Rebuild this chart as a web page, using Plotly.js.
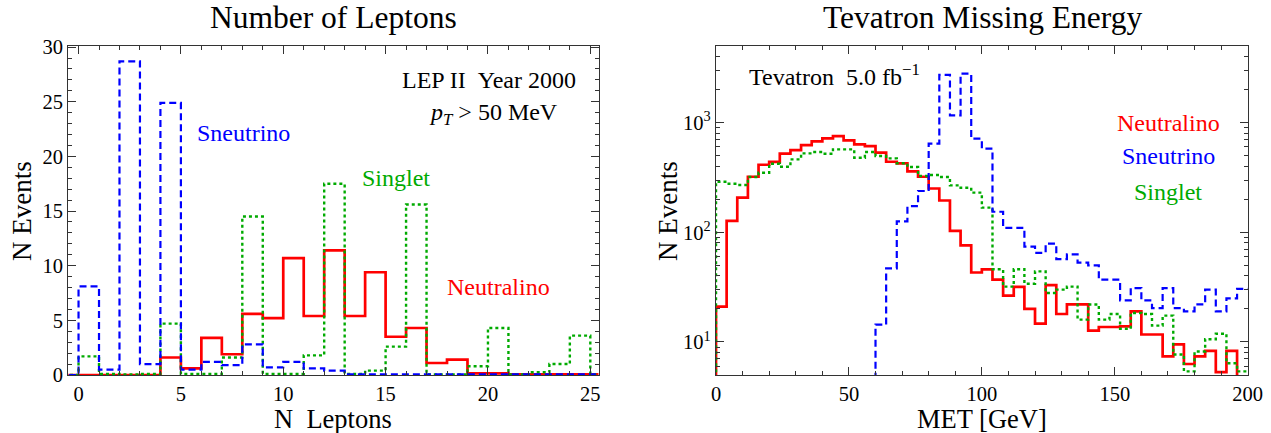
<!DOCTYPE html>
<html>
<head>
<meta charset="utf-8">
<script src="https://cdn.plot.ly/plotly-3.0.1.min.js"></script>
<style>
  html, body { margin: 0; padding: 0; background: #ffffff; }
  #chart { width: 1271px; height: 433px; }
</style>
</head>
<body>
<div id="chart"></div>
<script>
// ---------- Left panel: Number of Leptons (LEP II, year 2000) ----------
const nLeptons = [0,1,2,3,4,5,6,7,8,9,10,11,12,13,14,15,16,17,18,19,20,21,22,23,24,25];
const lepNeutralino = [0,0,0,0,1.6,0.6,3.4,1.9,5.6,5.2,10.7,5.4,11.4,5.4,9.4,3.5,4.3,1.1,1.4,0.15,0.15,0.05,0.05,0.05,0.05,0.05];
const lepSneutrino  = [8.1,0.5,28.7,1.0,24.9,0.5,1.2,0.9,2.8,0.7,1.2,0.6,0.4,0.05,0.05,0.05,0.05,0.05,0.05,0.05,0.05,0.05,0.05,0.05,0.05,0.05];
const lepSinglet    = [1.7,0.1,0.05,0.1,4.7,0.1,0.1,1.6,14.5,0.1,0.1,1.8,17.5,0.1,0.4,2.6,15.6,0.05,0.05,0.8,4.3,0.05,0.25,1.0,3.6,0.05];

// ---------- Right panel: Tevatron missing energy, 4 GeV bins (lower edges) ----------
const metBinLow = [0,4,8,12,16,20,24,28,32,36,40,44,48,52,56,60,64,68,72,76,80,84,88,92,96,
                   100,104,108,112,116,120,124,128,132,136,140,144,148,152,156,160,164,168,172,176,180,184,188,192,196];
const metBinWidth = 4;
const metNeutralino = [21,127,207,321,413,438,521,562,625,676,719,755,690,634,612,532,440,426,360,321,251,195,103,76,43,
                       46,37,26.5,31.8,20,14.7,33,18,22,22,12.7,13.7,13.7,13.9,19,11.7,11.7,7.4,9.5,6.3,7.4,8.3,5.3,8.3,4.5];
const metSneutrino  = [1,1,1,1,1,1,1,1,1,1,1,1,1,1,1,14.4,47,126,173,238,643,2725,1166,2800,714,
                       579,154,110,110,74,65,79,57,63,53,50,37,37,24,31,24,20.4,31,20.4,19,22,30,19,25,30.5];
const metSinglet    = [289,277,270,319,349,422,396,463,525,540,521,571,571,479,540,497,472,426,394,326,333,319,268,255,230,
                       168,46,32,46,34,44,28,30,32,16,22,16,18,13.2,18.4,18,14.1,17.4,7.7,5.4,8.2,10.6,11.9,6.4,5.4];

// tick labels
const lepTickVals = [0,5,10,15,20,25];
const evtTickVals = [0,5,10,15,20,25,30];
const metTickVals = [0,50,100,150,200];
const logTickVals = [10,100,1000];
const logTickText = ['10<sup>1</sup>','10<sup>2</sup>','10<sup>3</sup>'];
const logMinorVals = [5,6,7,8,9,20,30,40,50,60,70,80,90,200,300,400,500,600,700,800,900,2000,3000,4000,5000];

const RED = '#ff0000', BLUE = '#0000ff', GREEN = 'rgb(0,170,0)';
const FONT = 'Liberation Serif, Times New Roman, serif';

// step-histogram helper: x = bin edges, y = value held across each bin
function stepsUnit(bins, vals) {
  const x = [bins[0] - 1].concat(bins, [bins[bins.length - 1] + 1]);
  const y = [0].concat(vals, [vals[vals.length - 1]]);
  return {x, y};
}
function stepsMet(low, w, vals, floor) {
  const x = [low[0] - w].concat(low, [low[low.length - 1] + w]);
  const y = [floor].concat(vals, [vals[vals.length - 1]]);
  return {x, y};
}

const lN = stepsUnit(nLeptons, lepNeutralino);
const lS = stepsUnit(nLeptons, lepSneutrino);
const lG = stepsUnit(nLeptons, lepSinglet);
const mN = stepsMet(metBinLow, metBinWidth, metNeutralino, 1);
const mS = stepsMet(metBinLow, metBinWidth, metSneutrino, 1);
const mG = stepsMet(metBinLow, metBinWidth, metSinglet, 1);

function tr(s, color, dash, width, xa, ya, name) {
  return {x: s.x, y: s.y, type: 'scatter', mode: 'lines', name: name,
          line: {shape: 'hv', color: color, dash: dash, width: width},
          xaxis: xa, yaxis: ya, hoverinfo: 'x+y', showlegend: false, cliponaxis: true};
}

const data = [
  tr(lN, RED, 'solid', 2.7, 'x', 'y', 'Neutralino'),
  tr(lG, GREEN, 'dot', 2.4, 'x', 'y', 'Singlet'),
  tr(lS, BLUE, '7px,4px', 2.2, 'x', 'y', 'Sneutrino'),
  tr(mN, RED, 'solid', 2.7, 'x2', 'y2', 'Neutralino'),
  tr(mG, GREEN, 'dot', 2.4, 'x2', 'y2', 'Singlet'),
  tr(mS, BLUE, '7px,4px', 2.2, 'x2', 'y2', 'Sneutrino')
];

const axCommon = {
  showline: true, linecolor: '#333', linewidth: 1.2, mirror: 'allticks',
  ticks: 'inside', ticklen: 8, tickwidth: 1, tickcolor: '#333',
  showgrid: false, zeroline: false, fixedrange: true,
  tickfont: {family: FONT, size: 20.5, color: '#000'}
};

const ydom = [1 - 375/433, 1 - 46/433];

const layout = {
  width: 1271, height: 433,
  margin: {l: 0, r: 0, t: 0, b: 0},
  paper_bgcolor: '#ffffff', plot_bgcolor: '#ffffff',
  showlegend: false,
  font: {family: FONT, color: '#000'},
  xaxis: Object.assign({}, axCommon, {
    domain: [68.3/1271, 598.5/1271], range: [-0.5, 25.4],
    tickmode: 'array', tickvals: lepTickVals, ticktext: lepTickVals.map(String),
    minor: {dtick: 1, tick0: 0, ticklen: 4, tickcolor: '#333', ticks: 'inside'},
    anchor: 'y'
  }),
  yaxis: Object.assign({}, axCommon, {
    domain: ydom, range: [0, 30.1],
    tickmode: 'array', tickvals: evtTickVals, ticktext: evtTickVals.map(String),
    minor: {dtick: 1, tick0: 0, ticklen: 4, tickcolor: '#333', ticks: 'inside'},
    anchor: 'x'
  }),
  xaxis2: Object.assign({}, axCommon, {
    domain: [716/1271, 1247.7/1271], range: [0, 200],
    tickmode: 'array', tickvals: metTickVals, ticktext: metTickVals.map(String),
    minor: {dtick: 10, tick0: 0, ticklen: 4, tickcolor: '#333', ticks: 'inside'},
    anchor: 'y2'
  }),
  yaxis2: Object.assign({}, axCommon, {
    domain: ydom, type: 'log', range: [Math.log10(5), Math.log10(5000)],
    tickmode: 'array', tickvals: logTickVals, ticktext: logTickText,
    minor: {tickmode: 'array', tickvals: logMinorVals, ticklen: 4, tickcolor: '#333', ticks: 'inside'},
    anchor: 'x2'
  }),
  annotations: [
    // panel titles
    {text: 'Number of Leptons', xref: 'paper', yref: 'paper', x: 334/1271, y: 1 - 18/433,
     xanchor: 'center', yanchor: 'middle', showarrow: false, font: {family: FONT, size: 31.5, color: '#000'}},
    {text: 'Tevatron Missing Energy', xref: 'paper', yref: 'paper', x: 982/1271, y: 1 - 18/433,
     xanchor: 'center', yanchor: 'middle', showarrow: false, font: {family: FONT, size: 31.5, color: '#000'}},
    // axis titles
    {text: 'N\u00A0\u00A0Leptons', xref: 'paper', yref: 'paper', x: 333/1271, y: 1 - 419/433,
     xanchor: 'center', yanchor: 'middle', showarrow: false, font: {family: FONT, size: 26.5, color: '#000'}},
    {text: 'MET [GeV]', xref: 'paper', yref: 'paper', x: 982/1271, y: 1 - 419/433,
     xanchor: 'center', yanchor: 'middle', showarrow: false, font: {family: FONT, size: 26.5, color: '#000'}},
    {text: 'N Events', xref: 'paper', yref: 'paper', x: 22/1271, y: 1 - 211/433, textangle: -90,
     xanchor: 'center', yanchor: 'middle', showarrow: false, font: {family: FONT, size: 27, color: '#000'}},
    {text: 'N Events', xref: 'paper', yref: 'paper', x: 668/1271, y: 1 - 211/433, textangle: -90,
     xanchor: 'center', yanchor: 'middle', showarrow: false, font: {family: FONT, size: 27, color: '#000'}},
    // left panel labels
    {text: 'LEP II\u00A0\u00A0Year 2000', xref: 'paper', yref: 'paper', x: 578/1271, y: 1 - 80/433,
     xanchor: 'right', yanchor: 'middle', showarrow: false, font: {family: FONT, size: 24, color: '#000'}},
    {text: '<i>p<sub>T</sub></i> &gt; 50 MeV', xref: 'paper', yref: 'paper', x: 560/1271, y: 1 - 114/433,
     xanchor: 'right', yanchor: 'middle', showarrow: false, font: {family: FONT, size: 24, color: '#000'}},
    {text: 'Sneutrino', xref: 'paper', yref: 'paper', x: 243/1271, y: 1 - 133/433,
     xanchor: 'center', yanchor: 'middle', showarrow: false, font: {family: FONT, size: 24, color: BLUE}},
    {text: 'Singlet', xref: 'paper', yref: 'paper', x: 396/1271, y: 1 - 178/433,
     xanchor: 'center', yanchor: 'middle', showarrow: false, font: {family: FONT, size: 24, color: GREEN}},
    {text: 'Neutralino', xref: 'paper', yref: 'paper', x: 498/1271, y: 1 - 287/433,
     xanchor: 'center', yanchor: 'middle', showarrow: false, font: {family: FONT, size: 24, color: RED}},
    // right panel labels
    {text: 'Tevatron\u00A0\u00A05.0 fb<sup>\u22121</sup>', xref: 'paper', yref: 'paper', x: 747/1271, y: 1 - 75/433,
     xanchor: 'left', yanchor: 'middle', showarrow: false, font: {family: FONT, size: 24, color: '#000'}},
    {text: 'Neutralino', xref: 'paper', yref: 'paper', x: 1168/1271, y: 1 - 123/433,
     xanchor: 'center', yanchor: 'middle', showarrow: false, font: {family: FONT, size: 24, color: RED}},
    {text: 'Sneutrino', xref: 'paper', yref: 'paper', x: 1168/1271, y: 1 - 156/433,
     xanchor: 'center', yanchor: 'middle', showarrow: false, font: {family: FONT, size: 24, color: BLUE}},
    {text: 'Singlet', xref: 'paper', yref: 'paper', x: 1168/1271, y: 1 - 192/433,
     xanchor: 'center', yanchor: 'middle', showarrow: false, font: {family: FONT, size: 24, color: GREEN}}
  ]
};

Plotly.newPlot('chart', data, layout, {staticPlot: true, displayModeBar: false});
</script>
</body>
</html>
